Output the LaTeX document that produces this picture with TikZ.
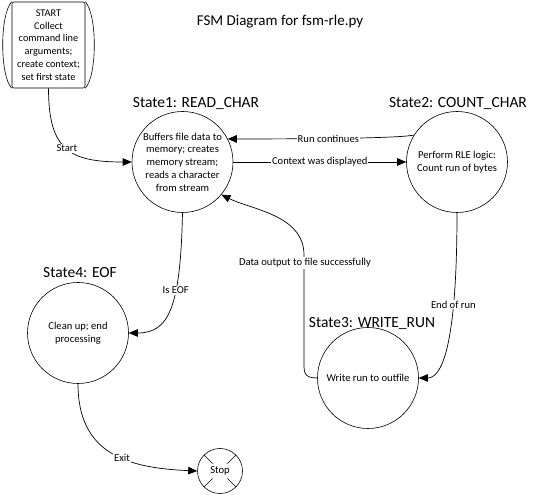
\documentclass[tikz,border=0pt]{standalone}
\usepackage{fontspec}
\setmainfont{Carlito}
\usetikzlibrary{arrows.meta,calc}
\begin{document}
\begin{tikzpicture}[x=1pt,y=-1pt,
  line/.style={draw=black,line width=0.7pt},
  arr/.style={line,-{Triangle[length=9pt,width=7.5pt]}},
  state/.style={circle,draw=black,line width=0.6pt,minimum size=101pt,inner sep=0pt,align=center,font=\fontsize{10.6}{12.7}\selectfont},
  title/.style={font=\fontsize{15.5}{17}\selectfont,inner sep=0pt},
  lbl/.style={fill=white,inner sep=1pt,font=\fontsize{10.6}{12}\selectfont}]
\fill[white] (0,0) rectangle (536,502);
\useasboundingbox (0,0) rectangle (536,502);

\node[font=\fontsize{15}{17}\selectfont,inner sep=0pt] (ttl) at (280,22) {FSM Diagram for fsm-rle.py};

% start shape
\node[draw=black,line width=0.6pt,rounded corners=2pt,minimum width=73pt,minimum height=86pt,inner sep=0pt,align=center,font=\fontsize{10.3}{12.7}\selectfont] (start) at (48.5,45)
  {START\\Collect\\command line\\arguments;\\create context;\\set first state};
\draw[line width=0.6pt] (start.north west) .. controls +(-12,13) and +(-12,-13) .. (start.south west);
\draw[line width=0.6pt] (start.north east) .. controls +(12,13) and +(12,-13) .. (start.south east);

\node[state] (c1) at (182.5,162) {Buffers file data to\\memory; creates\\memory stream;\\reads a character\\from stream};
\node[title,anchor=base] (t1) at (196,108) {State1: READ\_CHAR};

\node[state] (c2) at (457,162) {Perform RLE logic:\\Count run of bytes};
\node[title,anchor=base] (t2) at (458,108) {State2: COUNT\_CHAR};

\node[state] (c4) at (78,333) {Clean up; end\\processing};
\node[title,anchor=base] (t4) at (80,278) {State4: EOF};

\node[state] (c3) at (368,378) {Write run to outfile};
\node[title,anchor=base] (t3) at (372,328) {State3: WRITE\_RUN};

\node[circle,draw=black,line width=0.6pt,minimum size=45pt,inner sep=0pt,font=\fontsize{10.6}{12}\selectfont] (stop) at (220,471) {Stop};
\foreach \a in {45,135,225,315}{
  \draw[line width=0.5pt] ($(stop.center)+(\a:22.5)$) -- ($(stop.center)+(\a:10.5)$);
}

% connectors
\draw[arr] (start.south) .. controls +(0,62) and +(-62,0) .. node[lbl,pos=0.5] {Start} (c1.west);
\draw[arr] (c2.148) .. controls +(-20,4) and +(40,0) .. node[lbl,pos=0.5] {Run continues} (c1.27);
\draw[arr] (c1.east) -- node[lbl] {Context was displayed} (c2.west);
\draw[arr] (c1.south) .. controls +(-2,95) and +(40,0) .. node[lbl,pos=0.36] {Is EOF} (c4.east);
\draw[arr] (c2.south) .. controls +(0,138) and +(22,0) .. node[lbl,pos=0.28] {End of run} (c3.east);
\coordinate (d1) at (304,360);
\coordinate (d2) at (304,255);
\draw[arr] (c3.west) .. controls +(-14,0) and +(0,12) .. (d1) -- (d2) .. controls +(0,-40) and +(30,15) .. (c1.-40);
\node[lbl] (dl) at (305,263) {Data output to file successfully};
\draw[arr] (c4.south) .. controls +(0,70) and +(-70,-3) .. node[lbl,pos=0.58] {Exit} (stop.west);
\end{tikzpicture}
\end{document}
